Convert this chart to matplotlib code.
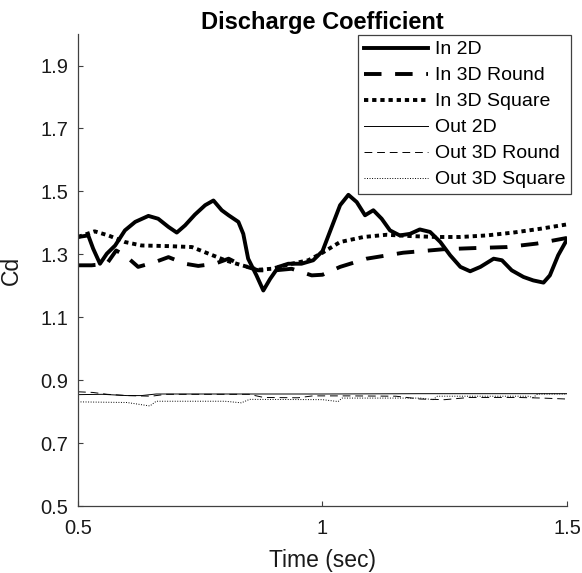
import matplotlib
matplotlib.use("Agg")
import matplotlib.pyplot as plt

plt.rcParams['font.family'] = ['Liberation Sans', 'DejaVu Sans']

# In 2D (thick solid)
t_in2d = [0.5, 0.521, 0.531, 0.545, 0.559, 0.576, 0.596, 0.617, 0.644, 0.664, 0.685,
          0.702, 0.719, 0.739, 0.76, 0.777, 0.794, 0.808, 0.828, 0.838, 0.848, 0.865,
          0.879, 0.893, 0.91, 0.93, 0.957, 0.981, 1.0, 1.015, 1.036, 1.053, 1.07,
          1.087, 1.104, 1.121, 1.138, 1.158, 1.179, 1.199, 1.22, 1.241, 1.261, 1.282,
          1.302, 1.323, 1.35, 1.367, 1.387, 1.411, 1.431, 1.452, 1.465, 1.482, 1.5]
cd_in2d = [1.355, 1.36, 1.318, 1.27, 1.302, 1.328, 1.376, 1.403, 1.422, 1.413, 1.387,
           1.369, 1.392, 1.426, 1.456, 1.471, 1.44, 1.424, 1.403, 1.365, 1.286, 1.233,
           1.185, 1.222, 1.26, 1.27, 1.27, 1.281, 1.31, 1.371, 1.456, 1.489, 1.466,
           1.424, 1.44, 1.413, 1.376, 1.36, 1.365, 1.379, 1.371, 1.339, 1.297, 1.26,
           1.246, 1.26, 1.286, 1.281, 1.249, 1.228, 1.217, 1.21, 1.233, 1.297, 1.347]

# In 3D Round (thick dashed)
t_in3dr = [0.5, 0.528, 0.559, 0.578, 0.596, 0.623, 0.657, 0.685, 0.719, 0.746, 0.78,
           0.808, 0.835, 0.869, 0.903, 0.937, 0.978, 1.0, 1.036, 1.09, 1.165, 1.247,
           1.315, 1.377, 1.438, 1.5]
cd_in3dr = [1.265, 1.265, 1.27, 1.312, 1.297, 1.26, 1.275, 1.291, 1.27, 1.263, 1.27,
            1.286, 1.265, 1.249, 1.249, 1.254, 1.233, 1.235, 1.26, 1.286, 1.305, 1.316,
            1.32, 1.323, 1.334, 1.352]

# In 3D Square (thick dotted)
t_in3ds = [0.5, 0.534, 0.562, 0.596, 0.63, 0.685, 0.733, 0.767, 0.801, 0.835, 0.869,
           0.896, 0.937, 0.971, 1.0, 1.036, 1.084, 1.131, 1.179, 1.233, 1.282, 1.336,
           1.39, 1.445, 1.5]
cd_in3ds = [1.355, 1.373, 1.36, 1.339, 1.328, 1.326, 1.323, 1.302, 1.281, 1.265, 1.251,
            1.254, 1.27, 1.281, 1.305, 1.339, 1.355, 1.362, 1.358, 1.355, 1.355, 1.36,
            1.369, 1.381, 1.395]

# Out 2D (thin solid)
t_out2d = [0.5, 0.55, 0.6, 0.63, 0.66, 0.75, 0.85, 1.0, 1.2, 1.35, 1.5]
cd_out2d = [0.854, 0.855, 0.851, 0.851, 0.856, 0.856, 0.856, 0.856, 0.857, 0.857, 0.857]

# Out 3D Round (thin dashed)
t_out3dr = [0.5, 0.53, 0.56, 0.6, 0.65, 0.68, 0.75, 0.85, 0.88, 0.95, 0.98, 1.05, 1.15,
            1.2, 1.25, 1.3, 1.4, 1.45, 1.5]
cd_out3dr = [0.863, 0.861, 0.855, 0.851, 0.849, 0.855, 0.855, 0.855, 0.845, 0.844, 0.85,
             0.85, 0.849, 0.84, 0.838, 0.845, 0.845, 0.843, 0.840]

# Out 3D Square (thin dotted)
t_out3ds = [0.5, 0.6, 0.647, 0.66, 0.8, 0.834, 0.851, 1.0, 1.032, 1.04, 1.2, 1.226,
            1.235, 1.42, 1.431, 1.44, 1.5]
cd_out3ds = [0.831, 0.829, 0.818, 0.833, 0.833, 0.828, 0.839, 0.838, 0.832, 0.843, 0.843,
             0.838, 0.849, 0.849, 0.845, 0.856, 0.856]

labels = ['In 2D', 'In 3D Round', 'In 3D Square', 'Out 2D', 'Out 3D Round', 'Out 3D Square']

axis_col = '#404040'

fig = plt.figure(figsize=(5.82, 5.73), dpi=100)
ax = fig.add_axes([0.134, 0.1169, 0.8402, 0.8237])

thick = 2.8
thin = 0.7
ax.plot(t_in2d, cd_in2d, color='black', lw=thick, ls='-', solid_joinstyle='round',
        label=labels[0])
ax.plot(t_in3dr, cd_in3dr, color='black', lw=thick, dashes=(4.5, 3.5), label=labels[1])
ax.plot(t_in3ds, cd_in3ds, color='black', lw=thick, dashes=(1.1, 1.0), label=labels[2])
ax.plot(t_out2d, cd_out2d, color='black', lw=thin, ls='-', label=labels[3])
ax.plot(t_out3dr, cd_out3dr, color='black', lw=thin, dashes=(8, 5), label=labels[4])
ax.plot(t_out3ds, cd_out3ds, color='black', lw=thin, dashes=(1, 1.6), label=labels[5])

ax.set_xlim(0.5, 1.5)
ax.set_ylim(0.5, 2.0)
ax.set_xticks([0.5, 1, 1.5])
ax.set_xticklabels(['0.5', '1', '1.5'])
ax.set_yticks([0.5, 0.7, 0.9, 1.1, 1.3, 1.5, 1.7, 1.9])
ax.set_yticklabels(['0.5', '0.7', '0.9', '1.1', '1.3', '1.5', '1.7', '1.9'])
ax.tick_params(direction='in', length=3.5, width=0.8, labelsize=14.5,
               colors=axis_col, labelcolor='#1a1a1a')
ax.tick_params(axis='y', pad=7)
ax.tick_params(axis='x', pad=9)
for side in ['top', 'right']:
    ax.spines[side].set_visible(False)
for side in ['left', 'bottom']:
    ax.spines[side].set_color(axis_col)
    ax.spines[side].set_linewidth(0.9)

ax.set_xlabel('Time (sec)', fontsize=16.5, color='#1a1a1a')
ax.xaxis.set_label_coords(0.5, -0.092)
ax.set_ylabel('Cd', fontsize=16.5, color='#1a1a1a')
ax.yaxis.set_label_coords(-0.112, 0.5)
ax.set_title('Discharge Coefficient', fontsize=17, fontweight='bold', pad=3)

leg = ax.legend(loc='upper right', bbox_to_anchor=(571 / 582, 1 - 35 / 573),
                bbox_transform=fig.transFigure, fontsize=14, frameon=True,
                fancybox=False, handlelength=3.3, handletextpad=0.35,
                borderaxespad=0.0, labelspacing=0.43, borderpad=0.3)
leg.get_frame().set_edgecolor(axis_col)
leg.get_frame().set_linewidth(0.9)
leg.get_frame().set_alpha(1)

fig.savefig('out.png', dpi=100)
